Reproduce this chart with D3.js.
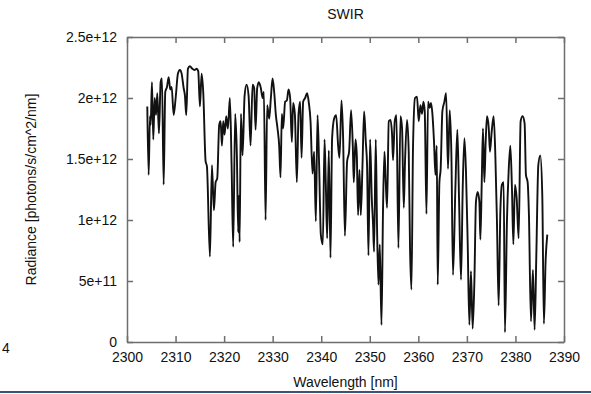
<!DOCTYPE html>
<html>
<head>
<meta charset="utf-8">
<script src="https://cdn.jsdelivr.net/npm/d3@7"></script>
<style>
  body { margin: 0; background: #fff; }
  svg { display: block; font-family: "Liberation Sans", Arial, Helvetica, sans-serif; }
</style>
</head>
<body>
<div id="chart"></div>
<script>
// spectrum (wavelength in nm, radiance in units of 1e12)
const wavelength = [
  2304.18, 2304.46, 2304.73, 2304.87, 2305.14, 2305.41, 2305.70, 2305.97, 2306.24, 2306.58,
  2306.93, 2307.20, 2307.55, 2307.88, 2308.23, 2308.58, 2308.91, 2309.20, 2309.61, 2310.02,
  2310.49, 2310.90, 2311.25, 2311.67, 2311.93, 2312.20, 2312.55, 2312.96, 2313.44, 2313.93,
  2314.34, 2314.67, 2315.02, 2315.37, 2315.70, 2316.19, 2316.46, 2317.08, 2317.49, 2317.90,
  2318.25, 2318.58, 2318.99, 2319.28, 2319.55, 2319.82, 2320.10, 2320.43, 2320.78, 2321.19,
  2321.54, 2321.87, 2322.28, 2322.63, 2322.90, 2323.05, 2323.19, 2323.46, 2323.80, 2324.22,
  2324.63, 2325.04, 2325.45, 2325.86, 2326.19, 2326.48, 2326.81, 2327.16, 2327.57, 2327.92,
  2328.19, 2328.54, 2328.87, 2329.28, 2329.63, 2329.98, 2330.31, 2330.66, 2331.00, 2331.34,
  2331.62, 2331.89, 2332.16, 2332.57, 2332.92, 2333.27, 2333.60, 2333.95, 2334.22, 2334.57,
  2334.98, 2335.33, 2335.66, 2335.95, 2336.28, 2336.69, 2337.10, 2337.45, 2337.80, 2338.21,
  2338.54, 2338.89, 2339.24, 2339.57, 2339.92, 2340.33, 2340.68, 2340.95, 2341.22, 2341.56,
  2341.91, 2342.24, 2342.65, 2343.07, 2343.48, 2343.76, 2344.18, 2344.51, 2344.88, 2345.33,
  2345.74, 2346.15, 2346.50, 2346.71, 2347.06, 2347.33, 2347.59, 2347.88, 2348.15, 2348.50,
  2348.83, 2349.18, 2349.44, 2349.73, 2350.06, 2350.41, 2350.68, 2350.88, 2351.23, 2351.50,
  2351.79, 2352.06, 2352.41, 2352.74, 2353.02, 2353.29, 2353.56, 2353.91, 2354.26, 2354.59,
  2354.79, 2355.14, 2355.49, 2355.90, 2356.32, 2356.65, 2357.00, 2357.26, 2357.67, 2358.02,
  2358.29, 2358.58, 2358.91, 2359.32, 2359.73, 2360.08, 2360.43, 2360.76, 2361.05, 2361.32,
  2361.67, 2362.00, 2362.35, 2362.61, 2362.90, 2363.23, 2363.52, 2363.79, 2363.99, 2364.34,
  2364.60, 2364.95, 2365.37, 2365.72, 2366.11, 2366.46, 2366.81, 2367.14, 2367.63, 2368.04,
  2368.38, 2368.79, 2369.14, 2369.49, 2369.81, 2370.16, 2370.51, 2370.84, 2371.19, 2371.54,
  2371.87, 2372.22, 2372.57, 2372.78, 2373.05, 2373.31, 2373.60, 2373.87, 2374.14, 2374.49,
  2374.75, 2375.10, 2375.51, 2375.86, 2376.19, 2376.54, 2376.89, 2377.22, 2377.57, 2377.84,
  2378.25, 2378.60, 2378.95, 2379.28, 2379.57, 2379.90, 2380.25, 2380.66, 2381.07, 2381.48,
  2381.89, 2382.16, 2382.51, 2382.78, 2383.19, 2383.60, 2383.95, 2384.30, 2384.71, 2385.12,
  2385.53, 2385.86, 2386.21, 2386.56
];
const radianceE12 = [
  1.93, 1.37, 1.85, 1.78, 2.13, 1.66, 2.00, 1.86, 2.04, 1.71,
  2.13, 2.16, 1.29, 2.05, 2.09, 2.17, 2.07, 2.09, 1.86, 2.00,
  2.20, 2.23, 2.20, 2.08, 2.02, 1.86, 2.24, 2.26, 2.24, 2.23,
  2.24, 2.22, 1.93, 2.20, 2.05, 1.48, 1.44, 0.70, 1.45, 1.08,
  1.31, 1.34, 1.78, 1.81, 1.61, 1.81, 1.70, 1.85, 1.75, 2.00,
  1.45, 0.78, 1.87, 1.53, 0.90, 1.20, 0.82, 1.87, 1.53, 2.02,
  2.11, 2.02, 1.61, 2.11, 2.08, 1.74, 2.08, 2.13, 2.08, 2.00,
  2.05, 1.00, 1.94, 1.83, 2.00, 2.16, 2.05, 1.86, 1.75, 1.61,
  1.35, 1.87, 1.75, 1.97, 1.98, 2.07, 2.00, 1.64, 1.96, 1.87,
  1.31, 1.87, 1.97, 1.51, 1.97, 2.00, 2.04, 1.96, 1.81, 1.38,
  1.56, 0.99, 1.86, 1.45, 0.88, 0.80, 1.66, 1.29, 0.85, 1.57,
  0.69, 1.67, 1.83, 1.86, 1.61, 1.51, 1.98, 1.67, 0.87, 1.48,
  1.56, 1.90, 1.61, 1.31, 1.66, 1.53, 1.04, 1.41, 1.04, 1.45,
  1.89, 1.64, 1.45, 0.71, 1.66, 1.18, 0.96, 0.74, 1.66, 0.93,
  0.47, 0.80, 0.14, 1.12, 1.56, 1.31, 1.10, 1.81, 1.82, 1.70,
  1.49, 1.81, 1.86, 0.77, 1.85, 1.75, 1.10, 1.48, 1.82, 1.56,
  0.77, 0.43, 1.61, 2.00, 2.01, 1.81, 1.94, 1.87, 1.97, 1.89,
  1.05, 1.97, 1.92, 1.96, 1.87, 1.64, 1.37, 1.61, 0.47, 1.31,
  1.42, 1.89, 1.97, 2.04, 1.42, 1.90, 1.53, 0.55, 1.26, 1.74,
  1.18, 0.51, 1.26, 1.67, 1.40, 0.82, 0.14, 0.58, 0.11, 0.49,
  1.15, 1.23, 1.15, 0.84, 1.29, 1.75, 1.31, 1.64, 1.85, 1.76,
  1.56, 1.72, 1.85, 1.53, 0.99, 0.30, 1.07, 1.29, 1.31, 0.08,
  0.99, 1.40, 1.61, 1.26, 0.80, 1.29, 1.18, 0.85, 1.81, 1.85,
  1.79, 1.37, 1.31, 1.04, 0.17, 0.59, 0.10, 0.71, 1.45, 1.53,
  1.20, 0.15, 0.66, 0.88
];
const xTicks = [2300, 2310, 2320, 2330, 2340, 2350, 2360, 2370, 2380, 2390];
const yTicks = [0, 5e11, 1e12, 1.5e12, 2e12, 2.5e12];
const yTickLabels = ['0', '5e+11', '1e+12', '1.5e+12', '2e+12', '2.5e+12'];

const width = 591, height = 394;
const margin = { top: 37, right: 27, bottom: 52, left: 127 };
const innerW = width - margin.left - margin.right;
const innerH = height - margin.top - margin.bottom;
const axisColor = '#6e6e6e';

const svg = d3.select('#chart')
  .append('svg')
  .attr('width', width)
  .attr('height', height);

const g = svg.append('g')
  .attr('transform', `translate(${margin.left},${margin.top})`);

const xScale = d3.scaleLinear().domain([2300, 2390]).range([0, innerW]);
const yScale = d3.scaleLinear().domain([0, 2.5e12]).range([innerH, 0]);

// axes, gnuplot style: inward ticks mirrored on all four sides
g.append('g')
  .attr('transform', `translate(0,${innerH})`)
  .call(d3.axisBottom(xScale).tickValues(xTicks).tickFormat(d3.format('d')).tickSizeInner(-6).tickSizeOuter(0).tickPadding(10));

g.append('g')
  .call(d3.axisTop(xScale).tickValues(xTicks).tickFormat('').tickSizeInner(-6).tickSizeOuter(0));

g.append('g')
  .call(d3.axisLeft(yScale).tickValues(yTicks).tickFormat((d, i) => yTickLabels[i]).tickSizeInner(-6).tickSizeOuter(0).tickPadding(10));

g.append('g')
  .attr('transform', `translate(${innerW},0)`)
  .call(d3.axisRight(yScale).tickValues(yTicks).tickFormat('').tickSizeInner(-6).tickSizeOuter(0));

g.selectAll('.domain, .tick line')
  .attr('stroke', axisColor)
  .attr('stroke-width', 1.5);

g.selectAll('.tick text')
  .attr('fill', '#111')
  .style('font-size', '14px')
  .style('font-family', '"Liberation Sans", Arial, sans-serif');

// spectrum line
const points = wavelength.map((w, i) => [w, radianceE12[i] * 1e12]);

g.append('path')
  .datum(points)
  .attr('fill', 'none')
  .attr('stroke', '#111')
  .attr('stroke-width', 1.9)
  .attr('stroke-linejoin', 'round')
  .attr('d', d3.line()
    .x(d => xScale(d[0]))
    .y(d => yScale(d[1]))
    .curve(d3.curveMonotoneX));

// titles
svg.append('text')
  .attr('x', margin.left + innerW / 2)
  .attr('y', 19)
  .attr('text-anchor', 'middle')
  .style('font-size', '14px')
  .attr('fill', '#111')
  .text('SWIR');

svg.append('text')
  .attr('x', margin.left + innerW / 2)
  .attr('y', 387)
  .attr('text-anchor', 'middle')
  .style('font-size', '14px')
  .attr('fill', '#111')
  .text('Wavelength [nm]');

svg.append('text')
  .attr('transform', `translate(36,${margin.top + innerH / 2}) rotate(-90)`)
  .attr('text-anchor', 'middle')
  .style('font-size', '14px')
  .attr('fill', '#111')
  .text('Radiance [photons/s/cm^2/nm]');

// stray tick label from the neighbouring panel and the page rule at the bottom
svg.append('text')
  .attr('x', 2)
  .attr('y', 353)
  .style('font-size', '14px')
  .attr('fill', '#111')
  .text('4');

svg.append('line')
  .attr('x1', 0).attr('x2', width)
  .attr('y1', 392).attr('y2', 392)
  .attr('stroke', '#3a5478')
  .attr('stroke-width', 2);
</script>
</body>
</html>
